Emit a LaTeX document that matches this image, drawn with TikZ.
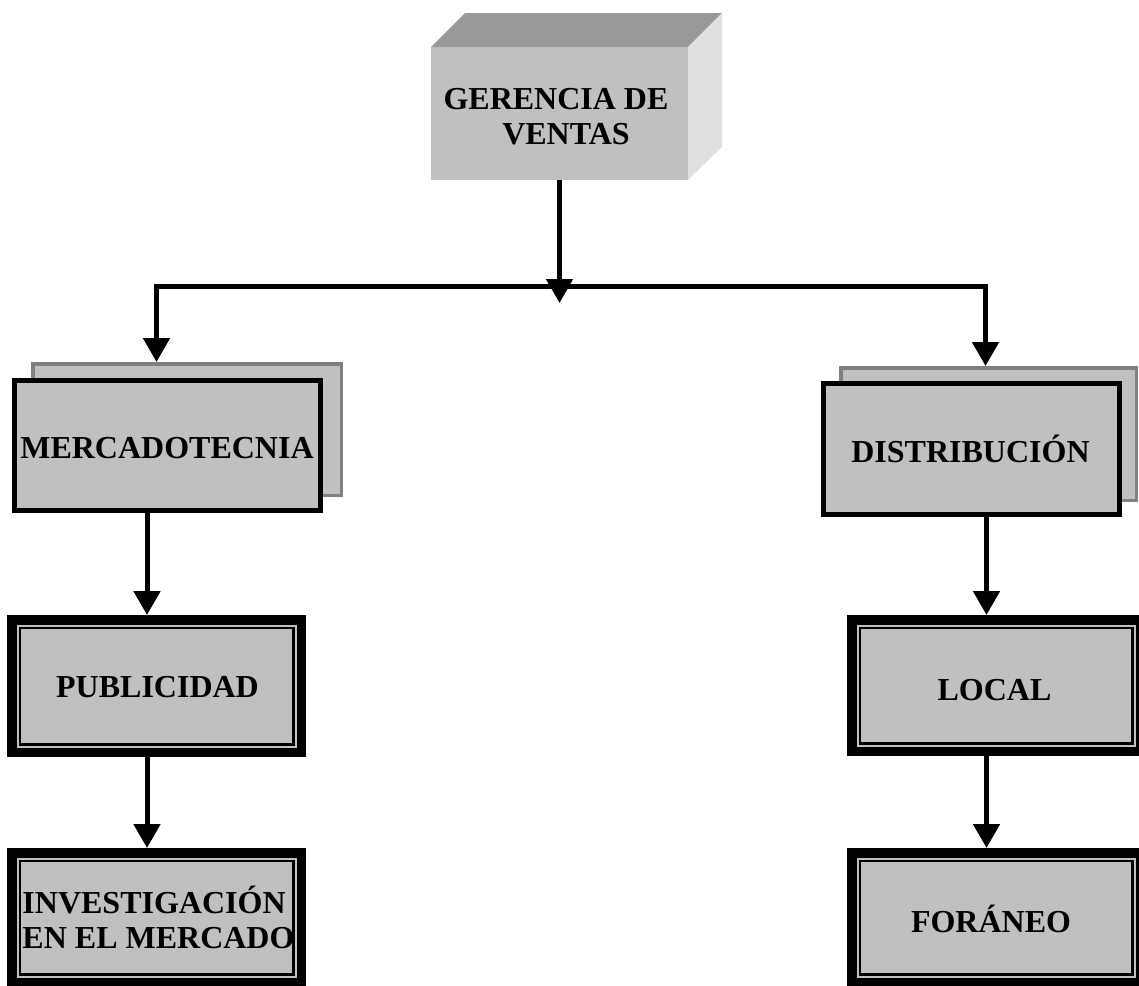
\documentclass[tikz,border=0pt]{standalone}
\usepackage{fontspec}
\setmainfont{Liberation Serif}
\usetikzlibrary{arrows.meta}
\definecolor{boxgray}{HTML}{C0C0C0}
\definecolor{topgray}{HTML}{999999}
\definecolor{sidegray}{HTML}{E0E0E0}
\definecolor{shadowline}{HTML}{808080}
\tikzset{bigtri/.tip={Triangle[width=26pt,length=24pt]}}
\begin{document}
\begin{tikzpicture}[x=1pt,y=-1pt,
  lbl/.style={inner sep=0pt, font=\fontsize{32}{35}\selectfont\bfseries},
  conn/.style={line width=5pt, line join=miter, -bigtri},
  face/.style={fill=boxgray, inner sep=0pt, outer sep=0pt},
  backcard/.style={draw=shadowline, line width=3.5pt, fill=boxgray, inner sep=0pt},
  frontcard/.style={draw=black, line width=5pt, fill=boxgray, inner sep=0pt},
  framecard/.style={draw=black, line width=9.5pt, fill=boxgray, inner sep=0pt},
  innerrule/.style={draw=black, line width=2.2pt}
]
\useasboundingbox (0,0) rectangle (1139,985);

% top box drawn as a solid block
\node[face, minimum width=257pt, minimum height=133pt] (ger) at (559.5,113.5) {};
\fill[topgray] (ger.north west) -- (ger.north east) -- ++(34,-34)
  -- ([shift={(34,-34)}]ger.north west) -- cycle;
\fill[sidegray] (ger.north east) -- ++(34,-34)
  -- ([shift={(34,-33)}]ger.south east) -- (ger.south east) -- cycle;
\node[lbl, align=center] (gertxt) at (556,117) {GERENCIA DE\\\hspace*{20pt}VENTAS};

% second level: stacked cards
\node[backcard, minimum width=308.5pt, minimum height=131.5pt] (msh) at (187,429.5) {};
\node[frontcard, minimum width=306pt, minimum height=130pt] (mfr) at (167.5,445.5) {};
\node[lbl, anchor=base] (mtxt) at (167,458) {MERCADOTECNIA};

\node[backcard, minimum width=295.5pt, minimum height=132.5pt] (dsh) at (988.5,434) {};
\node[frontcard, minimum width=296pt, minimum height=131pt] (dfr) at (971.5,449) {};
\node[lbl, anchor=base] (dtxt) at (970.5,462) {DISTRIBUCIÓN};

% third and fourth level: framed boxes
\node[framecard, minimum width=289.5pt, minimum height=132.5pt] (pub) at (156.5,686) {};
\node[framecard, minimum width=289.5pt, minimum height=129.5pt] (inv) at (156.5,917.5) {};
\node[framecard, minimum width=288.5pt, minimum height=131.5pt] (loc) at (996,685.5) {};
\node[framecard, minimum width=288.5pt, minimum height=129.5pt] (for) at (996,917.5) {};
\foreach \n in {pub,inv,loc,for}
  \draw[innerrule] ([shift={(12.6,12.6)}]\n.north west) rectangle ([shift={(-12.6,-12.6)}]\n.south east);

\node[lbl, anchor=base] (ptxt) at (157.5,697) {PUBLICIDAD};
\node[lbl, align=left] (itxt) at (158.5,917) {INVESTIGACIÓN\\EN EL MERCADO};
\node[lbl, anchor=base] (ltxt) at (994.5,700) {LOCAL};
\node[lbl, anchor=base] (ftxt) at (991,932) {FORÁNEO};

% connectors
\coordinate (hub) at (559.5,303);
\coordinate (jl) at (156.5,286);
\coordinate (jr) at (985.5,286);
\coordinate (lx) at (147,0);
\coordinate (rx) at (986.5,0);

\draw[conn, bigtri-bigtri] (jl |- msh.north) -- (jl) -- (jr) -- (jr |- dsh.north);
\draw[conn] (ger.south) -- (hub);
\draw[conn] (mfr.south -| lx) -- (pub.north -| lx);
\draw[conn] (pub.south -| lx) -- (inv.north -| lx);
\draw[conn] (dfr.south -| rx) -- (loc.north -| rx);
\draw[conn] (loc.south -| rx) -- (for.north -| rx);
\end{tikzpicture}
\end{document}
